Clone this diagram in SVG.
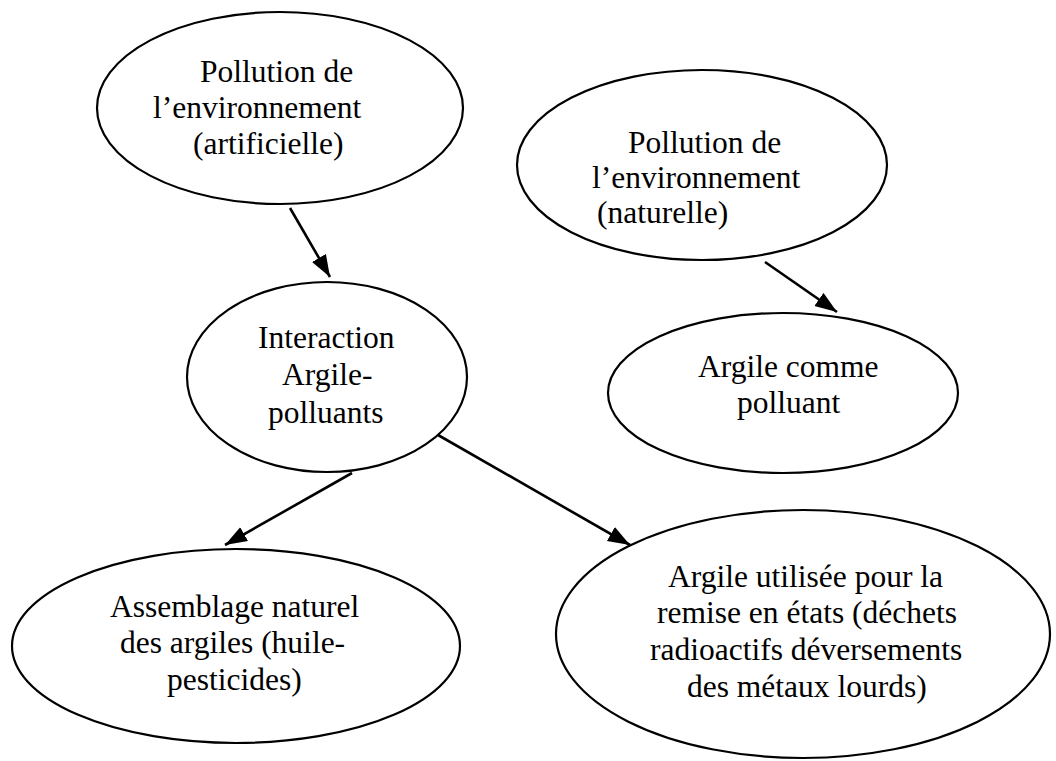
<svg xmlns="http://www.w3.org/2000/svg" width="1056" height="761" viewBox="0 0 1056 761">
<style>
.node ellipse{fill:#fff;stroke:#000;stroke-width:2.2}
.node text{font-family:"Liberation Serif","Times New Roman",serif;font-size:31.5px;fill:#000}
#connectors line{stroke:#000;stroke-width:2.6}
</style>
<defs>
<marker id="arrow" markerUnits="userSpaceOnUse" markerWidth="24" markerHeight="18" refX="22" refY="8" orient="auto">
<path d="M0,0 L22,8 L0,16 z" fill="#000"/>
</marker>
</defs>
<rect width="1056" height="761" fill="#fff"/>
<g id="n1" class="node">
<ellipse cx="280" cy="108" rx="183" ry="96"/>
<text x="200" y="82">Pollution de</text>
<text x="153" y="118">l’environnement</text>
<text x="193" y="154">(artificielle)</text>
</g>
<g id="n2" class="node">
<ellipse cx="702" cy="165" rx="185" ry="95"/>
<text x="628" y="153">Pollution de</text>
<text x="592" y="188">l’environnement</text>
<text x="597" y="223">(naturelle)</text>
</g>
<g id="n3" class="node">
<ellipse cx="327" cy="377" rx="140" ry="95"/>
<text x="258" y="348">Interaction</text>
<text x="282" y="385">Argile-</text>
<text x="268" y="423">polluants</text>
</g>
<g id="n4" class="node">
<ellipse cx="783" cy="393" rx="175" ry="80"/>
<text x="698" y="377">Argile comme</text>
<text x="737" y="413">polluant</text>
</g>
<g id="n5" class="node">
<ellipse cx="236" cy="646" rx="224" ry="97"/>
<text x="110" y="617">Assemblage naturel</text>
<text x="120" y="653">des argiles (huile-</text>
<text x="167" y="690">pesticides)</text>
</g>
<g id="n6" class="node">
<ellipse cx="803" cy="634" rx="247" ry="124"/>
<text x="668" y="587">Argile utilisée pour la</text>
<text x="657" y="623">remise en états (déchets</text>
<text x="650" y="660">radioactifs déversements</text>
<text x="687" y="697">des métaux lourds)</text>
</g>
<g id="connectors">
<line x1="290" y1="208" x2="330" y2="277" marker-end="url(#arrow)"/>
<line x1="765" y1="262" x2="837" y2="312" marker-end="url(#arrow)"/>
<line x1="352" y1="473" x2="225" y2="545" marker-end="url(#arrow)"/>
<line x1="438" y1="435" x2="630" y2="545" marker-end="url(#arrow)"/>
</g>
</svg>
